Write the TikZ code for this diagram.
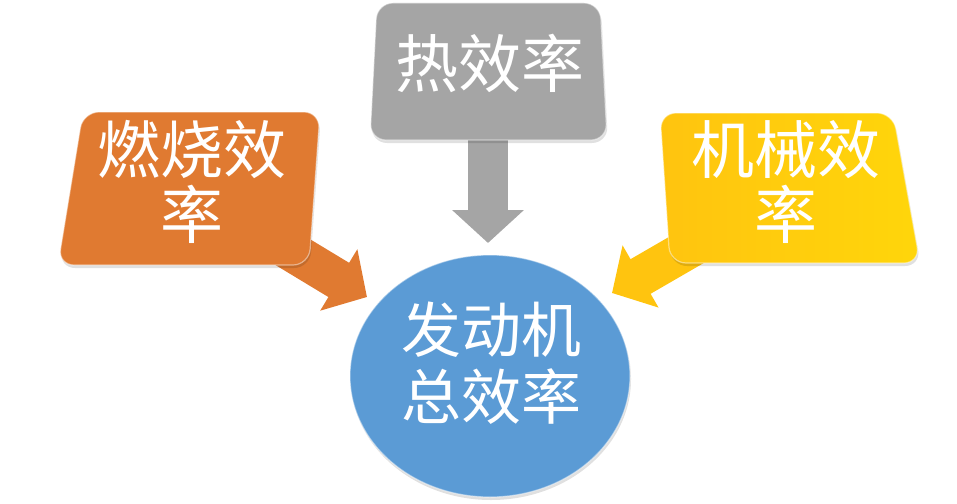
\documentclass[tikz,border=0pt]{standalone}
\usepackage{fontspec}
\newfontfamily\cjk{Noto Sans CJK SC}
\usetikzlibrary{arrows.meta,shapes.geometric}
\definecolor{burnorange}{HTML}{E07A31}
\definecolor{heatgray}{HTML}{A5A5A5}
\definecolor{mechgold}{HTML}{FFC40F}
\definecolor{hubblue}{HTML}{5B9BD5}

\begin{document}
\begin{tikzpicture}[x=1pt,y=-1pt]
	\tikzset{boxtext/.style={text=white,font=\cjk\fontsize{63}{65}\selectfont,align=center,inner sep=0pt},
		flowarrow/.style={line width=40pt,-{Triangle[length=33pt,width=70pt]}},
		boxshadow/.style={fill=black,opacity=0.12,rounded corners=16pt},
		bevel/.style={line width=1.2pt,draw=white,draw opacity=0.45}}
	\useasboundingbox (0,0) rectangle (957,503);
	% box centres and arrow tips
	\coordinate (burnC) at (190,190);
	\coordinate (heatC) at (488,72);
	\coordinate (mechC) at (790,190);
	\coordinate (burnTip) at (367,297);
	\coordinate (heatTip) at (488,243);
	\coordinate (mechTip) at (612,293);
	\foreach \from/\to/\col in {burnC/burnTip/burnorange,heatC/heatTip/heatgray,mechC/mechTip/mechgold}
		\draw[flowarrow,\col] (\from) -- (\to);
	% shadows, then the tilted boxes
	\fill[boxshadow] (84,115) -- (321,115) -- (310,268) -- (59,268) -- cycle;
	\fill[boxshadow] (378,6) -- (601,6) -- (608,143) -- (371,143) -- cycle;
	\fill[boxshadow] (661,116) -- (894,116) -- (921,266) -- (671,266) -- cycle;
	\filldraw[fill=burnorange,bevel,rounded corners=16pt] (83,112) -- (320,112) -- (309,265) -- (58,265) -- cycle;
	\filldraw[fill=heatgray,bevel,rounded corners=16pt] (377,3) -- (600,3) -- (607,140) -- (370,140) -- cycle;
	\shade[left color=mechgold,right color=mechgold!70!yellow,rounded corners=16pt] (660,113) -- (893,113) -- (920,263) -- (670,263) -- cycle;
	\draw[bevel,rounded corners=16pt] (660,113) -- (893,113) -- (920,263) -- (670,263) -- cycle;
	\node[boxtext] (burn) at (192,182) {燃烧效\\率};
	\node[boxtext] (heat) at (490,63) {热效率};
	\node[boxtext] (mech) at (786,182) {机械效\\率};
	% engine total
	\fill[black,opacity=0.12] (491,379) ellipse [x radius=140, y radius=121];
	\node[ellipse,fill=hubblue,draw=white,draw opacity=0.45,line width=1.2pt,
		minimum width=280pt,minimum height=242pt] (hub) at (490,376) {};
	\node[boxtext,font=\cjk\fontsize{60}{67}\selectfont] (total) at (491,363) {发动机\\总效率};
\end{tikzpicture}
\end{document}
